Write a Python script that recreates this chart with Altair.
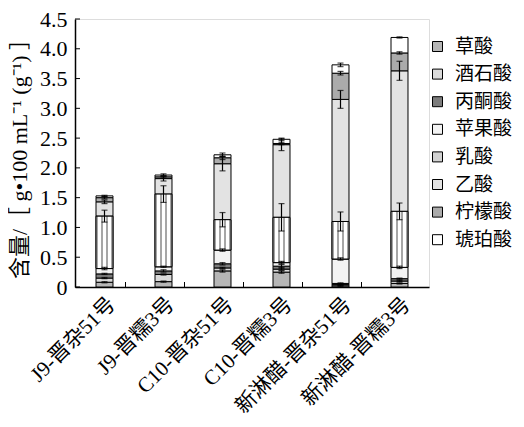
import altair as alt
import pandas as pd

samples = ["J9-晋杂51号", "J9-晋糯3号", "C10-晋杂51号", "C10-晋糯3号", "新淋醋-晋杂51号", "新淋醋-晋糯3号"]
acids = ["草酸", "酒石酸", "丙酮酸", "苹果酸", "乳酸", "乙酸", "柠檬酸", "琥珀酸"]

oxalic = [0.08, 0.09, 0.27, 0.25, 0.02, 0.06]
tartaric = [0.07, 0.12, 0.05, 0.05, 0.02, 0.04]
pyruvic = [0.07, 0.06, 0.07, 0.05, 0.02, 0.04]
malic = [0.09, 0.07, 0.23, 0.06, 0.41, 0.19]
lactic = [0.88, 1.22, 0.51, 0.76, 0.63, 0.94]
acetic = [0.24, 0.26, 0.94, 1.22, 2.05, 2.36]
citric = [0.07, 0.03, 0.10, 0.02, 0.44, 0.30]
succinic = [0.03, 0.03, 0.05, 0.07, 0.14, 0.26]

oxalic_sd = [0.01, 0.01, 0.02, 0.02, 0.01, 0.01]
tartaric_sd = [0.01, 0.01, 0.01, 0.02, 0.01, 0.01]
pyruvic_sd = [0.01, 0.02, 0.02, 0.03, 0.01, 0.01]
malic_sd = [0.02, 0.01, 0.02, 0.02, 0.02, 0.02]
lactic_sd = [0.10, 0.14, 0.12, 0.23, 0.16, 0.14]
acetic_sd = [0.03, 0.04, 0.12, 0.10, 0.15, 0.16]
citric_sd = [0.02, 0.02, 0.03, 0.02, 0.03, 0.02]
succinic_sd = [0.01, 0.02, 0.03, 0.02, 0.03, 0.01]

y_ticks = [0, 0.5, 1.0, 1.5, 2.0, 2.5, 3.0, 3.5, 4.0, 4.5]

vals = [oxalic, tartaric, pyruvic, malic, lactic, acetic, citric, succinic]
sds = [oxalic_sd, tartaric_sd, pyruvic_sd, malic_sd, lactic_sd, acetic_sd, citric_sd, succinic_sd]
fills = ["#b6b6b6", "#dadada", "#7c7c7c", "#f3f3f3", "#d2d2d2", "#e3e3e3", "#ababab", "#ffffff"]

rows = []
for k, a in enumerate(acids):
    for s, v, e in zip(samples, vals[k], sds[k]):
        rows.append({"sample": s, "acid": a, "value": v, "sd": e, "k": k})
df = pd.DataFrame(rows)

FONT = "Liberation Serif, Noto Sans CJK SC"
W, H = 354, 268
STEP = W / len(samples)
YTITLE = "含量/［ g•100 mL⁻¹ (g⁻¹) ］"

G = "#a6a6a6"
grid_fill = {
    "gradient": "linear", "x1": 0, "y1": 0, "x2": 1, "y2": 0,
    "stops": [
        {"offset": 0.0, "color": G}, {"offset": 0.12, "color": G},
        {"offset": 0.12, "color": "white"}, {"offset": 0.30, "color": "white"},
        {"offset": 0.30, "color": G}, {"offset": 0.42, "color": G},
        {"offset": 0.42, "color": "white"}, {"offset": 0.58, "color": "white"},
        {"offset": 0.58, "color": G}, {"offset": 0.70, "color": G},
        {"offset": 0.70, "color": "white"}, {"offset": 0.88, "color": "white"},
        {"offset": 0.88, "color": G}, {"offset": 1.0, "color": G},
    ],
}

xscale = alt.Scale(domain=samples, paddingInner=0.712, paddingOuter=0.356)
yscale = alt.Scale(domain=[0, 4.5], nice=False, zero=True)

xaxis = alt.Axis(title=None, labelAngle=-45, labelFontSize=21, labelFont=FONT,
                 labelColor="black", domainColor="black", domainWidth=1.5,
                 ticks=False, labelPadding=6)
yaxis = alt.Axis(title=YTITLE, values=y_ticks, ticks=False, labelOverlap=False,
                 labelFontSize=22, labelFont=FONT, labelPadding=8,
                 labelExpr="datum.value == 0 ? '0' : format(datum.value, '.1f')",
                 titleFontSize=22, titleFont=FONT, titleFontWeight="normal",
                 titleColor="black", labelColor="black", domainColor="black",
                 domainWidth=1.5, grid=False, titlePadding=8)

base = alt.Chart(df)

bars = base.mark_bar(stroke="black", strokeWidth=1).encode(
    x=alt.X("sample:N", scale=xscale, sort=samples, axis=xaxis),
    y=alt.Y("value:Q", stack="zero", scale=yscale, axis=yaxis),
    color=alt.Color("acid:N", scale=alt.Scale(domain=acids, range=fills),
                    legend=alt.Legend(title=None, orient="none", legendX=353, legendY=18,
                                      symbolType="square", symbolSize=100,
                                      symbolStrokeColor="black", symbolStrokeWidth=1,
                                      labelFontSize=19, labelFont=FONT, labelColor="black",
                                      rowPadding=7.6, labelOffset=8, padding=0)),
    order=alt.Order("k:Q", sort="ascending"),
)

stacked = base.transform_stack(
    stack="value", groupby=["sample"], as_=["y0", "y1"],
    sort=[alt.SortField("k", order="ascending")]
)

xe = alt.X("sample:N", scale=xscale, sort=samples, axis=None)

lactic_overlay = stacked.transform_filter(alt.datum.acid == "乳酸").mark_bar(
    stroke="black", strokeWidth=1, fill=grid_fill
).encode(x=xe, y=alt.Y("y0:Q", scale=yscale, axis=None), y2="y1:Q")

err = stacked.transform_calculate(lo="datum.y1 - datum.sd", hi="datum.y1 + datum.sd")
rule = err.mark_rule(color="black", strokeWidth=1.2).encode(
    x=xe, y=alt.Y("lo:Q", scale=yscale, axis=None), y2="hi:Q")
cap_lo = err.mark_tick(color="black", thickness=1.2, size=6).encode(
    x=xe, y=alt.Y("lo:Q", scale=yscale, axis=None))
cap_hi = err.mark_tick(color="black", thickness=1.2, size=6).encode(
    x=xe, y=alt.Y("hi:Q", scale=yscale, axis=None))

ytick = alt.Chart(pd.DataFrame({"t": y_ticks})).mark_rule(color="black", strokeWidth=1).encode(
    y=alt.Y("t:Q", scale=yscale, axis=None), x=alt.value(0), x2=alt.value(5))

xtick = alt.Chart(pd.DataFrame({"sample": samples[:-1]})).mark_rule(color="black", strokeWidth=1).encode(
    x=xe, xOffset=alt.value(STEP / 2), y=alt.value(H), y2=alt.value(H - 5))

chart = alt.layer(bars, lactic_overlay, rule, cap_lo, cap_hi, ytick, xtick).resolve_axis(
    x="independent", y="independent"
).properties(
    width=W, height=H, padding={"left": 0, "top": 0, "right": 0, "bottom": 0}
).configure_axis(labelOverlap=False).configure_view(stroke=None).configure(background="white")

chart.save("out.html", embed_options={"renderer": "svg", "actions": False})
